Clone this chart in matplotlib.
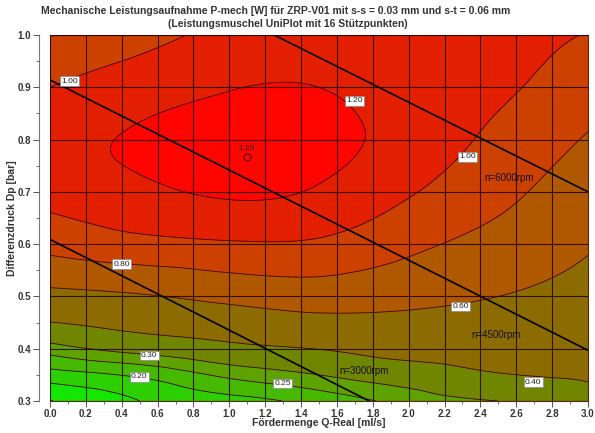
import numpy as np
import matplotlib
matplotlib.use("Agg")
import matplotlib.pyplot as plt
import matplotlib.tri as mtri
from matplotlib.colors import ListedColormap, BoundaryNorm
from matplotlib.ticker import MultipleLocator, FormatStrFormatter

plt.rcParams['font.family'] = ['Liberation Sans', 'DejaVu Sans']

# Stützpunkte: Q [ml/s] x Dp [bar] -> P-mech [W]
q_vals = [0.0, 0.5, 1.0, 1.5, 2.0, 2.5, 3.0]
dp_vals = [0.30, 0.35, 0.40, 0.45, 0.50, 0.60, 0.70, 0.80, 0.90, 1.00]
p_030 = [0.098, 0.15, 0.18, 0.219, 0.266, 0.30, 0.37]
p_035 = [0.179, 0.209, 0.262, 0.30, 0.344, 0.394, 0.412]
p_040 = [0.275, 0.325, 0.369, 0.403, 0.45, 0.464, 0.453]
p_045 = [0.397, 0.447, 0.497, 0.545, 0.55, 0.532, 0.494]
p_050 = [0.544, 0.584, 0.649, 0.69, 0.655, 0.60, 0.535]
p_060 = [0.86, 0.94, 0.979, 0.97, 0.845, 0.735, 0.618]
p_070 = [1.07, 1.16, 1.225, 1.18, 1.02, 0.85, 0.70]
p_080 = [1.13, 1.225, 1.28, 1.25, 1.13, 0.95, 0.785]
p_090 = [1.00, 1.10, 1.19, 1.20, 1.12, 1.03, 0.90]
p_100 = [0.90, 0.95, 1.05, 1.10, 1.08, 1.045, 0.995]

levels = [0.10, 0.15, 0.20, 0.25, 0.30, 0.40, 0.60, 0.80, 1.00, 1.20]
band_colors = ['#00ff00', '#14e600', '#2ccf00', '#46b800', '#5ea200', '#708600',
               '#8c6c00', '#b05800', '#cc4000', '#e22000', '#ff0500']

# contour label positions and texts
lab_q = [0.11, 1.70, 2.33, 0.40, 2.29, 0.554, 0.498, 1.298, 2.695]
lab_dp = [0.912, 0.874, 0.767, 0.562, 0.481, 0.387, 0.346, 0.333, 0.336]
lab_txt = ['1.00', '1.20', '1.00', '0.80', '0.60', '0.30', '0.20', '0.25', '0.40']

# maximum
max_q, max_dp, max_txt = 1.097, 0.766, '1.29'

# Drehzahl-Linien (n = const)
rpm_names = ['n=3000rpm', 'n=4500rpm', 'n=6000rpm']
rpm_q = [[0.0, 1.78], [0.0, 3.0], [1.25, 3.0]]
rpm_dp = [[0.609, 0.30], [0.914, 0.397], [1.0, 0.70]]
rpm_lab_q = [1.75, 2.49, 2.56]
rpm_lab_dp = [0.357, 0.426, 0.727]

P = np.array([p_030, p_035, p_040, p_045, p_050, p_060, p_070, p_080, p_090, p_100])
nq, nd = len(q_vals), len(dp_vals)
QQ, DD = np.meshgrid(q_vals, dp_vals)

# triangulate in plot-normalised coordinates so the cubic interpolation is isotropic
xs = QQ.ravel() / 3.0
ys = (DD.ravel() - 0.3) / 0.7
tris = []
for j in range(nd - 1):
    for i in range(nq - 1):
        a = j * nq + i
        tris.append([a, a + 1, a + nq + 1])
        tris.append([a, a + nq + 1, a + nq])
tri = mtri.Triangulation(xs, ys, np.array(tris))
interp = mtri.CubicTriInterpolator(tri, P.ravel(), kind='min_E')
refiner = mtri.UniformTriRefiner(tri)
tri_n, p_f = refiner.refine_field(P.ravel(), triinterpolator=interp, subdiv=4)
tri_f = mtri.Triangulation(tri_n.x * 3.0, tri_n.y * 0.7 + 0.3, tri_n.triangles)

fig = plt.figure(figsize=(5.95, 4.33), dpi=100)
ax = fig.add_axes([50/595, 1-401/433, 538/595, 366/433])

cmap = ListedColormap(band_colors)
bounds = [-10] + levels + [10]
norm = BoundaryNorm(bounds, cmap.N)
ax.tricontourf(tri_f, p_f, levels=bounds, cmap=cmap, norm=norm)
ax.tricontour(tri_f, p_f, levels=levels, colors='#3a0800', linewidths=0.6)

ax.set_xlim(0, 3.0)
ax.set_ylim(0.3, 1.0)
ax.xaxis.set_major_locator(MultipleLocator(0.2))
ax.xaxis.set_minor_locator(MultipleLocator(0.1))
ax.yaxis.set_major_locator(MultipleLocator(0.1))
ax.yaxis.set_minor_locator(MultipleLocator(0.05))
ax.xaxis.set_major_formatter(FormatStrFormatter('%.1f'))
ax.yaxis.set_major_formatter(FormatStrFormatter('%.1f'))
ax.grid(True, which='major', color='#200000', lw=0.8, alpha=0.85)
ax.set_axisbelow(False)

for q, dp in zip(rpm_q, rpm_dp):
    ax.plot(q, dp, color='black', lw=1.2, zorder=4)
for name, q, dp in zip(rpm_names, rpm_lab_q, rpm_lab_dp):
    ax.text(q, dp, name, ha='center', va='center', fontsize=7, color='#111111', zorder=6)

for txt, q, dp in zip(lab_txt, lab_q, lab_dp):
    ax.text(q, dp, txt, ha='center', va='center', fontsize=6, color='#222222', zorder=7,
            bbox=dict(boxstyle='square,pad=0.15', fc='white', ec='#888888', lw=0.5))

ax.plot([max_q], [max_dp], 'o', ms=5, mfc='none', mec='#5a0000', mew=0.8, zorder=6)
ax.text(max_q, max_dp + 0.016, max_txt, ha='center', va='center', fontsize=6, color='#4a0000', zorder=6)

ax.spines['left'].set_position(('outward', 8))
ax.spines['left'].set_color('#777777')
for s in ['top', 'right', 'bottom']:
    ax.spines[s].set_color('#5a2a10')
    ax.spines[s].set_linewidth(0.8)
ax.tick_params(which='major', direction='out', length=4, width=0.7, color='#555555', pad=1.5)
ax.tick_params(which='minor', direction='out', length=2.5, width=0.6, color='#555555')
for lab in ax.get_xticklabels() + ax.get_yticklabels():
    lab.set_fontweight('bold')
    lab.set_fontsize(7)
    lab.set_color('#333333')

ax.set_xlabel('Fördermenge Q-Real [ml/s]', fontsize=7.5, fontweight='bold', color='#333333')
ax.set_ylabel('Differenzdruck Dp [bar]', fontsize=7.5, fontweight='bold', color='#333333')
ax.xaxis.set_label_coords(0.5, -0.046)
ax.yaxis.set_label_coords(-0.062, 0.5)

fig.text(276/595, 1-11/433, 'Mechanische Leistungsaufnahme P-mech [W] für ZRP-V01 mit s-s = 0.03 mm und s-t = 0.06 mm',
         ha='center', va='center', fontsize=7.5, fontweight='bold', color='#333333')
fig.text(288/595, 1-24/433, '(Leistungsmuschel UniPlot mit 16 Stützpunkten)',
         ha='center', va='center', fontsize=7.5, fontweight='bold', color='#333333')

fig.savefig('out.png', dpi=100)
